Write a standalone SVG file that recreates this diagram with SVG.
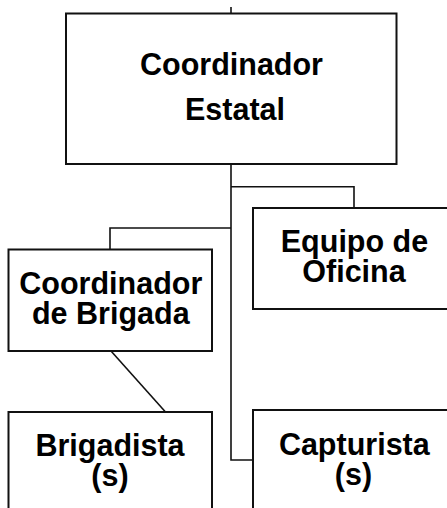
<svg xmlns="http://www.w3.org/2000/svg" width="447" height="508" viewBox="0 0 447 508">
<style>
.box{fill:#fff;stroke:#111;stroke-width:2}
.con{fill:none;stroke:#111;stroke-width:1.6}
.t{font-family:"Liberation Sans",Arial,sans-serif;font-weight:bold;font-size:30.5px;fill:#000;text-anchor:middle}
</style>
<rect width="447" height="508" fill="#fff"/>
<g id="connectors">
<path class="con" d="M231 7V13.5"/>
<path class="con" d="M231 164V460H253"/>
<path class="con" d="M231 186.7H354V208"/>
<path class="con" d="M231 228H110V249.5"/>
<path class="con" d="M111 351L165.5 412"/>
</g>
<g id="coordinador-estatal">
<rect class="box" x="66" y="13.5" width="330.5" height="150.5"/>
<text class="t" x="231.5" y="75">Coordinador</text>
<text class="t" x="235" y="120">Estatal</text>
</g>
<g id="equipo-oficina">
<rect class="box" x="253" y="208" width="203" height="101"/>
<text class="t" x="354.5" y="252">Equipo de</text>
<text class="t" x="354" y="282">Oficina</text>
</g>
<g id="coordinador-brigada">
<rect class="box" x="8.5" y="249.5" width="203.5" height="101.5"/>
<text class="t" x="110.8" y="293.5">Coordinador</text>
<text class="t" x="110.8" y="324">de Brigada</text>
</g>
<g id="brigadista">
<rect class="box" x="8.5" y="412" width="203.5" height="110"/>
<text class="t" x="110" y="456">Brigadista</text>
<text class="t" x="110" y="486">(s)</text>
</g>
<g id="capturista">
<rect class="box" x="253" y="410" width="203" height="110"/>
<text class="t" x="354.3" y="455">Capturista</text>
<text class="t" x="353.5" y="485">(s)</text>
</g>
</svg>
